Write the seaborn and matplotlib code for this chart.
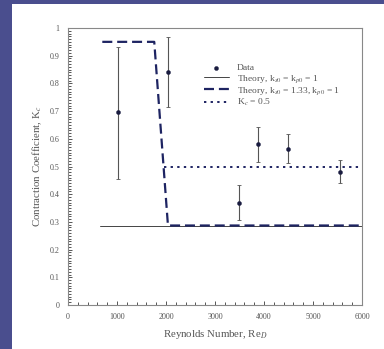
import matplotlib
matplotlib.use("Agg")
import matplotlib.pyplot as plt
from matplotlib.patches import Rectangle
from matplotlib.ticker import MultipleLocator, FixedLocator
import seaborn as sns
import pandas as pd

# measured data with error bars
re_data = [1020, 2050, 3480, 3880, 4490, 5560]
kc_data = [0.696, 0.840, 0.370, 0.582, 0.564, 0.481]
kc_low = [0.455, 0.714, 0.307, 0.518, 0.512, 0.440]
kc_high = [0.930, 0.967, 0.434, 0.642, 0.618, 0.522]

# theory curves
re_theory1 = [650, 6000]
kc_theory1 = [0.287, 0.287]
re_theory2 = [700, 1760, 2040, 6000]
kc_theory2 = [0.950, 0.950, 0.287, 0.287]
re_const = [1960, 6000]
kc_const = [0.5, 0.5]

x_ticks = [0, 1000, 2000, 3000, 4000, 5000, 6000]
y_ticks = [0, 0.1, 0.2, 0.3, 0.4, 0.5, 0.6, 0.7, 0.8, 0.9, 1]
y_labels = ["0", "0.1", "0.2", "0.3", "0.4", "0.5", "0.6", "0.7", "0.8", "0.9", "1"]

sns.set_style("ticks")
plt.rcParams["font.family"] = ["Liberation Serif", "DejaVu Serif"]
plt.rcParams["mathtext.fontset"] = "stix"

navy = "#1e2462"
grey = "#555555"

fig = plt.figure(figsize=(3.84, 3.49), dpi=100)
fig.patch.set_facecolor("#4a4e8e")
fig.patches.append(Rectangle((12 / 384, 0), 1, 1 - 4 / 349, transform=fig.transFigure,
                             facecolor="white", edgecolor="none", zorder=-5))

ax = fig.add_axes([68 / 384, 44 / 349, 294 / 384, 277 / 349])
ax.set_zorder(2)
ax.set_facecolor("white")

df = pd.DataFrame({"re": re_data, "kc": kc_data})
yerr = [[k - lo for k, lo in zip(kc_data, kc_low)], [hi - k for k, hi in zip(kc_data, kc_high)]]
ax.errorbar(re_data, kc_data, yerr=yerr, fmt="none", ecolor="#555555", elinewidth=0.8,
            capsize=1.5, capthick=0.6)
sns.scatterplot(data=df, x="re", y="kc", ax=ax, color="#1a1c40", s=9, edgecolor="#1a1c40",
                label="Data", zorder=3)

sns.lineplot(x=re_theory1, y=kc_theory1, ax=ax, color="#444444", lw=0.7,
             label="Theory, k$_{s0}$ = k$_{p0}$ = 1", sort=False)
sns.lineplot(x=re_theory2, y=kc_theory2, ax=ax, color=navy, lw=1.6, dashes=(4.5, 2.2),
             label="Theory, k$_{s0}$ = 1.33, k$_{p0}$ = 1", sort=False)
sns.lineplot(x=re_const, y=kc_const, ax=ax, color=navy, lw=1.4, dashes=(1.2, 2.2),
             label="K$_c$ = 0.5", sort=False)

ax.set_xlim(0, 6000)
ax.set_ylim(0, 1)
ax.xaxis.set_major_locator(FixedLocator(x_ticks))
ax.yaxis.set_major_locator(FixedLocator(y_ticks))
ax.set_yticklabels(y_labels)
ax.xaxis.set_minor_locator(MultipleLocator(200))
ax.yaxis.set_minor_locator(MultipleLocator(0.01))
ax.tick_params(which="both", direction="in", colors=grey, labelcolor="#555555", labelsize=5.8,
               width=0.7, pad=6)
ax.tick_params(which="major", length=3)
ax.tick_params(which="minor", length=2)
for s in ax.spines.values():
    s.set_color("#888888")
    s.set_linewidth(0.8)
    s.set_visible(True)

ax.set_xlabel("Reynolds Number, Re$_D$", fontsize=7.8, color="#555555", labelpad=5)
ax.set_ylabel("Contraction Coefficient, K$_c$", fontsize=7.8, color="#555555", labelpad=4)

leg = ax.legend(loc="upper left", bbox_to_anchor=(0.45, 0.885), frameon=False, fontsize=6.8,
                handlelength=2.6, labelspacing=0.05, handletextpad=0.9, borderaxespad=0)
for t in leg.get_texts():
    t.set_color("#555555")

fig.savefig("out.png", dpi=100, facecolor=fig.get_facecolor())
